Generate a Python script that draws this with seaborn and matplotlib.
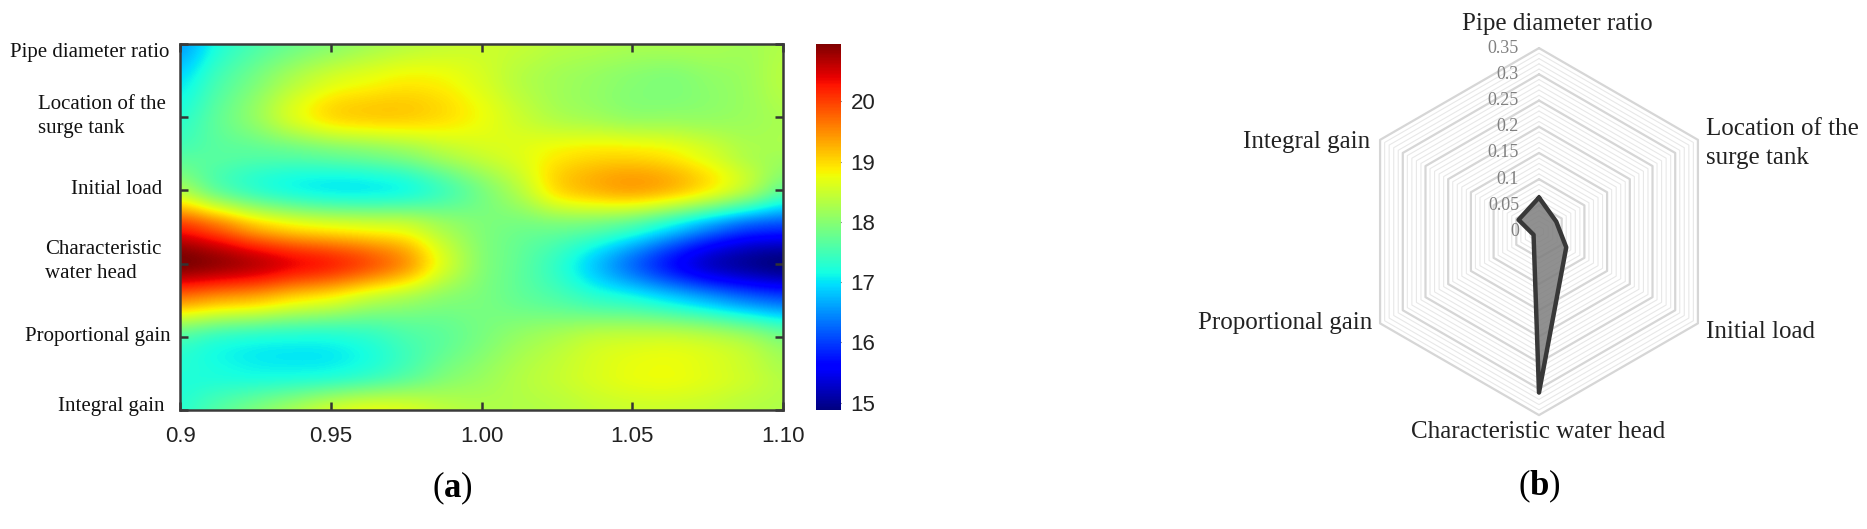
import numpy as np
import pandas as pd
import matplotlib
matplotlib.use('Agg')
import matplotlib.pyplot as plt
import seaborn as sns

W, H = 1867, 529

# (a) values, rows top to bottom
x_values = [0.9, 0.9125, 0.925, 0.9375, 0.95, 0.9625, 0.975, 0.9875, 1.0,
            1.0125, 1.025, 1.0375, 1.05, 1.0625, 1.075, 1.0875, 1.1]
row_0 = [16.6, 17.2, 17.55, 17.8, 18.0, 18.2, 18.35, 18.45, 18.5, 18.45, 18.35, 18.3, 18.25, 18.25, 18.25, 18.2, 18.3]
row_1 = [17.0, 17.5, 17.9, 18.3, 18.6, 18.75, 18.85, 18.8, 18.6, 18.35, 18.2, 18.1, 18.0, 17.95, 18.05, 18.15, 18.35]
row_2 = [17.3, 17.7, 18.1, 18.6, 18.95, 19.05, 19.05, 18.95, 18.75, 18.5, 18.3, 18.2, 18.1, 18.1, 18.1, 18.15, 18.25]
row_3 = [17.6, 17.65, 17.65, 17.7, 17.8, 17.9, 18.05, 18.3, 18.5, 18.65, 18.85, 18.95, 18.95, 18.85, 18.6, 18.3, 18.2]
row_4 = [18.3, 17.75, 17.4, 17.2, 17.1, 17.1, 17.2, 17.5, 17.9, 18.35, 18.95, 19.2, 19.3, 19.15, 18.8, 18.3, 17.7]
row_5 = [20.1, 19.7, 19.2, 18.9, 18.75, 18.65, 18.55, 18.2, 17.95, 17.85, 17.85, 17.75, 17.5, 17.05, 16.55, 16.15, 16.0]
row_6 = [20.95, 20.8, 20.6, 20.35, 20.15, 19.85, 19.4, 18.6, 18.0, 17.7, 17.35, 16.85, 16.3, 15.75, 15.3, 15.05, 14.9]
row_7 = [19.5, 19.3, 19.15, 18.9, 18.7, 18.4, 18.2, 18.0, 17.9, 17.75, 17.6, 17.4, 17.25, 17.0, 16.7, 16.4, 16.2]
row_8 = [17.6, 17.4, 17.3, 17.25, 17.25, 17.35, 17.55, 17.7, 17.9, 18.1, 18.25, 18.4, 18.45, 18.45, 18.35, 18.15, 17.85]
row_9 = [17.25, 17.2, 17.15, 17.15, 17.2, 17.35, 17.6, 17.9, 18.1, 18.3, 18.45, 18.6, 18.72, 18.75, 18.65, 18.5, 18.3]
row_10 = [17.3, 17.6, 17.9, 18.2, 18.5, 18.65, 18.6, 18.4, 18.3, 18.3, 18.35, 18.45, 18.5, 18.5, 18.45, 18.35, 18.3]
x_tick_labels = ['0.9', '0.95', '1.00', '1.05', '1.10']
cbar_ticks = [15, 16, 17, 18, 19, 20]

# (b) radar values, clockwise from the top
radar_labels = ['Pipe diameter ratio', 'Location of the\nsurge tank', 'Initial load',
                'Characteristic water head', 'Proportional gain', 'Integral gain']
radar_values = [0.065, 0.038, 0.06, 0.307, 0.012, 0.045]
radar_ticks = ['0', '0.05', '0.1', '0.15', '0.2', '0.25', '0.3', '0.35']

sns.set_theme(style='white')
plt.rcParams['font.family'] = ['Liberation Serif', 'DejaVu Serif']
plt.rcParams['mathtext.fontset'] = 'custom'
plt.rcParams['mathtext.rm'] = 'Liberation Serif'
plt.rcParams['mathtext.bf'] = 'Liberation Serif:bold'


def box(left, top, right, bottom):
    # pixel box to figure fractions
    return [left / W, 1 - bottom / H, (right - left) / W, (bottom - top) / H]


def px_text(x, y, s, **kw):
    fig.text(x / W, 1 - y / H, s, va='center', **kw)


fig = plt.figure(figsize=(W / 100, H / 100), dpi=100)

# ---- heat map ----
ax = fig.add_axes(box(180, 44, 783, 410))
cax = fig.add_axes(box(816, 44, 841, 410))
grid = pd.DataFrame([row_0, row_1, row_2, row_3, row_4, row_5, row_6, row_7,
                     row_8, row_9, row_10], columns=x_values)
vmin, vmax = 14.88, 20.95
sns.heatmap(grid, ax=ax, cbar_ax=cax, cmap='jet', vmin=vmin, vmax=vmax,
            xticklabels=False, yticklabels=False, cbar_kws={'ticks': cbar_ticks})
# smooth surface over the seaborn cells
ax.collections[0].set_visible(False)
ny, nx = grid.shape
ax.imshow(grid.values, cmap='jet', vmin=vmin, vmax=vmax, aspect='auto',
          interpolation='catrom', extent=(0, nx, ny, 0))
ax.set_xlim(0.5, nx - 0.5)
ax.set_ylim(ny - 0.5, 0.5)
ax.set_xticks(np.arange(0.5, nx, 4))
ax.set_yticks(np.arange(0.5, ny, 2))
ax.set_xticklabels([])
ax.set_yticklabels([])
ax.tick_params(direction='in', length=6, width=1.8, color='#333333',
               top=True, right=True, bottom=True, left=True)
for s in ax.spines.values():
    s.set_visible(True)
    s.set_linewidth(1.8)
    s.set_color('#3a3a3a')

cax.tick_params(direction='in', length=3, width=0.8, color='#333333', right=True, pad=7)
for t in cax.get_yticklabels():
    t.set_fontfamily('Liberation Sans')
    t.set_fontsize(16)
    t.set_color('#222222')

for pos, lab in zip(ax.get_xticks(), x_tick_labels):
    ax.annotate(lab, (pos, ny - 0.5), xytext=(0, -26), textcoords='offset pixels',
                ha='center', va='center', family='Liberation Sans', fontsize=16, color='#222222')

px_text(10, 52, 'Pipe diameter ratio', fontsize=15, color='#111111')
px_text(38, 116.5, 'Location of the\nsurge tank', fontsize=15, color='#111111', linespacing=1.36)
px_text(71, 190, 'Initial load', fontsize=15, color='#111111')
px_text(45, 261.5, 'Characteristic\nwater head', fontsize=15, color='#111111', linespacing=1.36)
px_text(25, 337, 'Proportional gain', fontsize=15, color='#111111')
px_text(58, 407, 'Integral gain', fontsize=15, color='#111111')
px_text(452, 488, r'($\mathbf{a}$)', fontsize=25, ha='center', color='black')

# ---- radar ----
cx, cy, rad = 1539, 231.6, 183.5
rax = fig.add_axes(box(cx - rad, cy - rad, cx + rad, cy + rad), projection='polar')
rax.set_theta_zero_location('N')
rax.set_theta_direction(-1)
rax.set_ylim(0, 0.35)
rax.axis('off')

angles = np.deg2rad(np.arange(0, 360, 60))
ring_angles = np.append(angles, angles[0])
for level in np.arange(1, 36):
    major = level % 5 == 0
    rax.plot(ring_angles, [level / 100] * 7, color='#d6d6d6' if major else '#e8e8e8',
             lw=1.6 if major else 0.8, clip_on=False, zorder=2 if major else 1)

closed_vals = radar_values + radar_values[:1]
rax.fill(ring_angles, closed_vals, color='#7d7d7d', alpha=0.85, zorder=3)
sns.lineplot(x=ring_angles, y=closed_vals, sort=False, estimator=None, ax=rax,
             color='#383838', lw=3.2, zorder=4, legend=False)
rax.set_ylim(0, 0.35)
rax.axis('off')

for i, lab in enumerate(radar_ticks):
    rax.annotate(lab, (0, i * 0.05), xytext=(-20, 0), textcoords='offset pixels', ha='right',
                 va='center', fontsize=13, color='#808080', annotation_clip=False, zorder=5)

px_text(1557, 24, radar_labels[0], fontsize=18, ha='center', color='#222222')
px_text(1706, 143.5, radar_labels[1], fontsize=18, ha='left', color='#222222', linespacing=1.37)
px_text(1706, 332, radar_labels[2], fontsize=18, ha='left', color='#222222')
px_text(1538, 432, radar_labels[3], fontsize=18, ha='center', color='#222222')
px_text(1372, 323, radar_labels[4], fontsize=18, ha='right', color='#222222')
px_text(1370, 142, radar_labels[5], fontsize=18, ha='right', color='#222222')
px_text(1539, 486, r'($\mathbf{b}$)', fontsize=25, ha='center', color='black')

fig.savefig('out.png', dpi=100)
